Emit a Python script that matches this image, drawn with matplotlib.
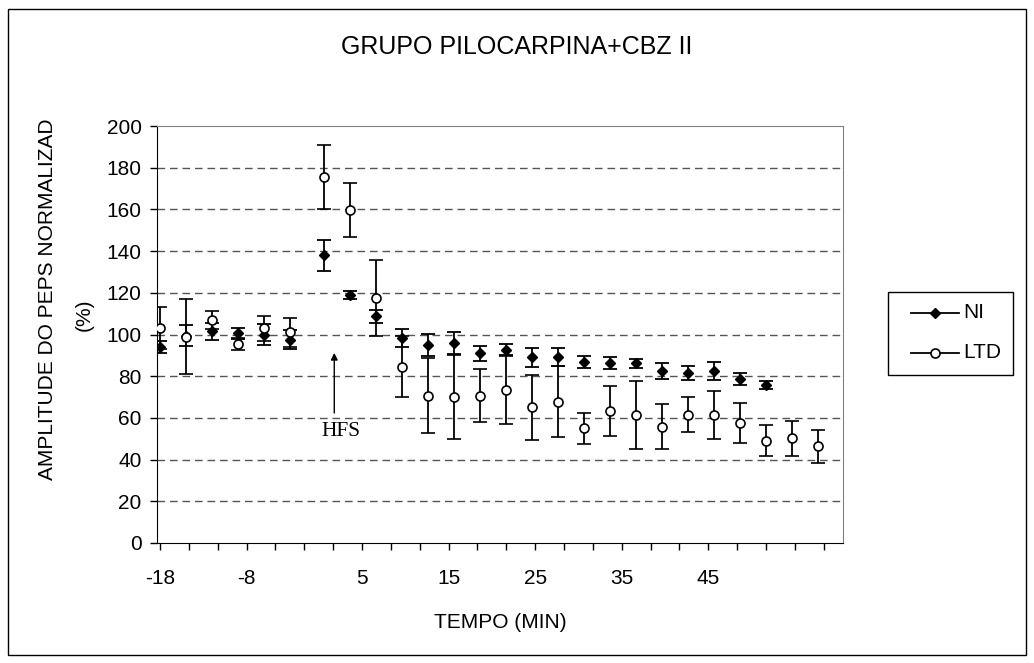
import matplotlib
matplotlib.use("Agg")
import matplotlib.pyplot as plt
from matplotlib.lines import Line2D
from matplotlib.patches import Rectangle
from matplotlib.transforms import Bbox, TransformedBbox

plt.rcParams['font.family'] = ['Liberation Sans', 'DejaVu Sans']

# tempo (min) de cada registro
tempo = [-18, -15, -12, -9, -6, -3, 1, 4, 7, 10, 13, 16, 19, 22, 25, 28,
         31, 34, 37, 40, 43, 46, 49, 52, 55, 58]

ni = [94, 99.5, 101.5, 100.5, 100, 97.5, 138, 119, 108.7, 98.3, 95, 96,
      91, 92.8, 89, 89.2, 87, 86.3, 86.1, 82.5, 81.5, 82.6, 78.7, 75.9]
ni_err = [3, 5, 4, 2.5, 5, 4.5, 7.5, 2, 3, 4.2, 5.3, 5.3,
          3.7, 2.8, 4.6, 4.5, 2.9, 2.8, 2, 3.7, 3.3, 4.2, 2.9, 1.9]

ltd = [103, 99, 107, 95.5, 103, 101, 175.5, 159.6, 117.5, 84.6, 70.7, 70,
       70.7, 73.4, 65.1, 67.8, 55, 63.3, 61.4, 55.8, 61.4, 61.4, 57.7, 49.1,
       50.2, 46.5]
ltd_err = [10, 18, 4.5, 3, 6, 7, 15.5, 13, 18, 14.5, 18, 20,
           12.6, 16.3, 15.5, 17, 7.5, 12.2, 16.2, 10.8, 8.4, 11.7, 9.6, 7.5,
           8.3, 7.9]

xticks = [-18, -14.67, -11.33, -8, -4.67, -1.33, 2, 5.33, 8.67, 12, 15.33,
          18.67, 22, 25.33, 28.67, 32, 35.33, 38.67, 42, 45.33, 48.67, 52,
          55.33, 58.67]
xlabels = ['-18', '', '', '-8', '', '', '', '5', '', '', '15', '', '', '25',
           '', '', '35', '', '', '45', '', '', '', '']

series = ['NI', 'LTD']

W, H = 1034, 663
fig = plt.figure(figsize=(W / 100, H / 100), dpi=100)
ax = fig.add_axes([157 / W, 1 - 543 / H, (843 - 157) / W, (543 - 126) / H])

ni_style = dict(marker='D', color='black', markersize=5.5)
ltd_style = dict(marker='o', color='black', markerfacecolor='white',
                 markeredgewidth=1.2, markersize=6.5)

ax.errorbar(tempo[:len(ni)], ni, yerr=ni_err, linestyle='none',
            ecolor='black', elinewidth=1.3, capsize=5, capthick=1.3,
            zorder=3, **ni_style)
ax.errorbar(tempo, ltd, yerr=ltd_err, linestyle='none',
            ecolor='black', elinewidth=1.3, capsize=5, capthick=1.3,
            zorder=4, **ltd_style)

ax.set_xlim(-18.35, 60.9)
ax.set_ylim(0, 200)
ax.set_yticks(range(0, 201, 20))
ax.set_xticks(xticks)
ax.set_xticklabels(xlabels)
ax.tick_params(axis='y', length=5, width=1, pad=6, labelsize=15)
ax.tick_params(axis='x', length=5, width=1, pad=14, labelsize=15)

for y in range(20, 200, 20):
    ax.axhline(y, color='#555555', lw=1, linestyle=(0, (5.5, 3.5)), zorder=1)

for side in ['top', 'right']:
    ax.spines[side].set_color('#808080')
for side in ['left', 'bottom']:
    ax.spines[side].set_color('black')

ax.set_xlabel('TEMPO (MIN)', fontsize=15, labelpad=18)

# rotulo do eixo y cortado como no original
t1 = fig.text(48 / W, 1 - 480 / H, 'AMPLITUDE DO PEPS NORMALIZADA',
              rotation=90, ha='center', va='bottom', fontsize=15)
t1.set_clip_box(TransformedBbox(Bbox.from_extents(0, 0, 1, 1 - 120 / H),
                                fig.transFigure))
t1.set_clip_on(True)
fig.text(84 / W, 1 - 315 / H, '(%)', rotation=90, ha='center', va='center',
         fontsize=15)

fig.text(0.5, 1 - 47 / H, 'GRUPO PILOCARPINA+CBZ II', ha='center',
         va='center', fontsize=18)

ax.annotate('', xy=(2.13, 92.5), xytext=(2.13, 61),
            arrowprops=dict(arrowstyle='-|>', color='black', lw=1,
                            mutation_scale=10))
ax.text(2.9, 53.7, 'HFS', family='Liberation Serif', fontsize=15.5,
        ha='center', va='center')

# legenda desenhada a mao (caixa, linha com marcador, texto)
fig.add_artist(Rectangle((888 / W, 1 - 375 / H), (1013 - 888) / W,
                         (375 - 292) / H, transform=fig.transFigure,
                         fill=False, ec='black', lw=1))
for name, style, ypx in zip(series, [ni_style, ltd_style], [313, 353]):
    yf = 1 - ypx / H
    fig.add_artist(Line2D([911 / W, 959 / W], [yf, yf], color='black',
                          lw=1.3, transform=fig.transFigure))
    fig.add_artist(Line2D([935 / W], [yf], linestyle='none',
                          transform=fig.transFigure, **style))
    fig.text(963 / W, yf, name, ha='left', va='center', fontsize=15)

fig.add_artist(Rectangle((8 / W, 1 - 655 / H), (1026 - 8) / W,
                         (655 - 9) / H, transform=fig.transFigure,
                         fill=False, ec='black', lw=1))

fig.savefig('out.png', dpi=100)
